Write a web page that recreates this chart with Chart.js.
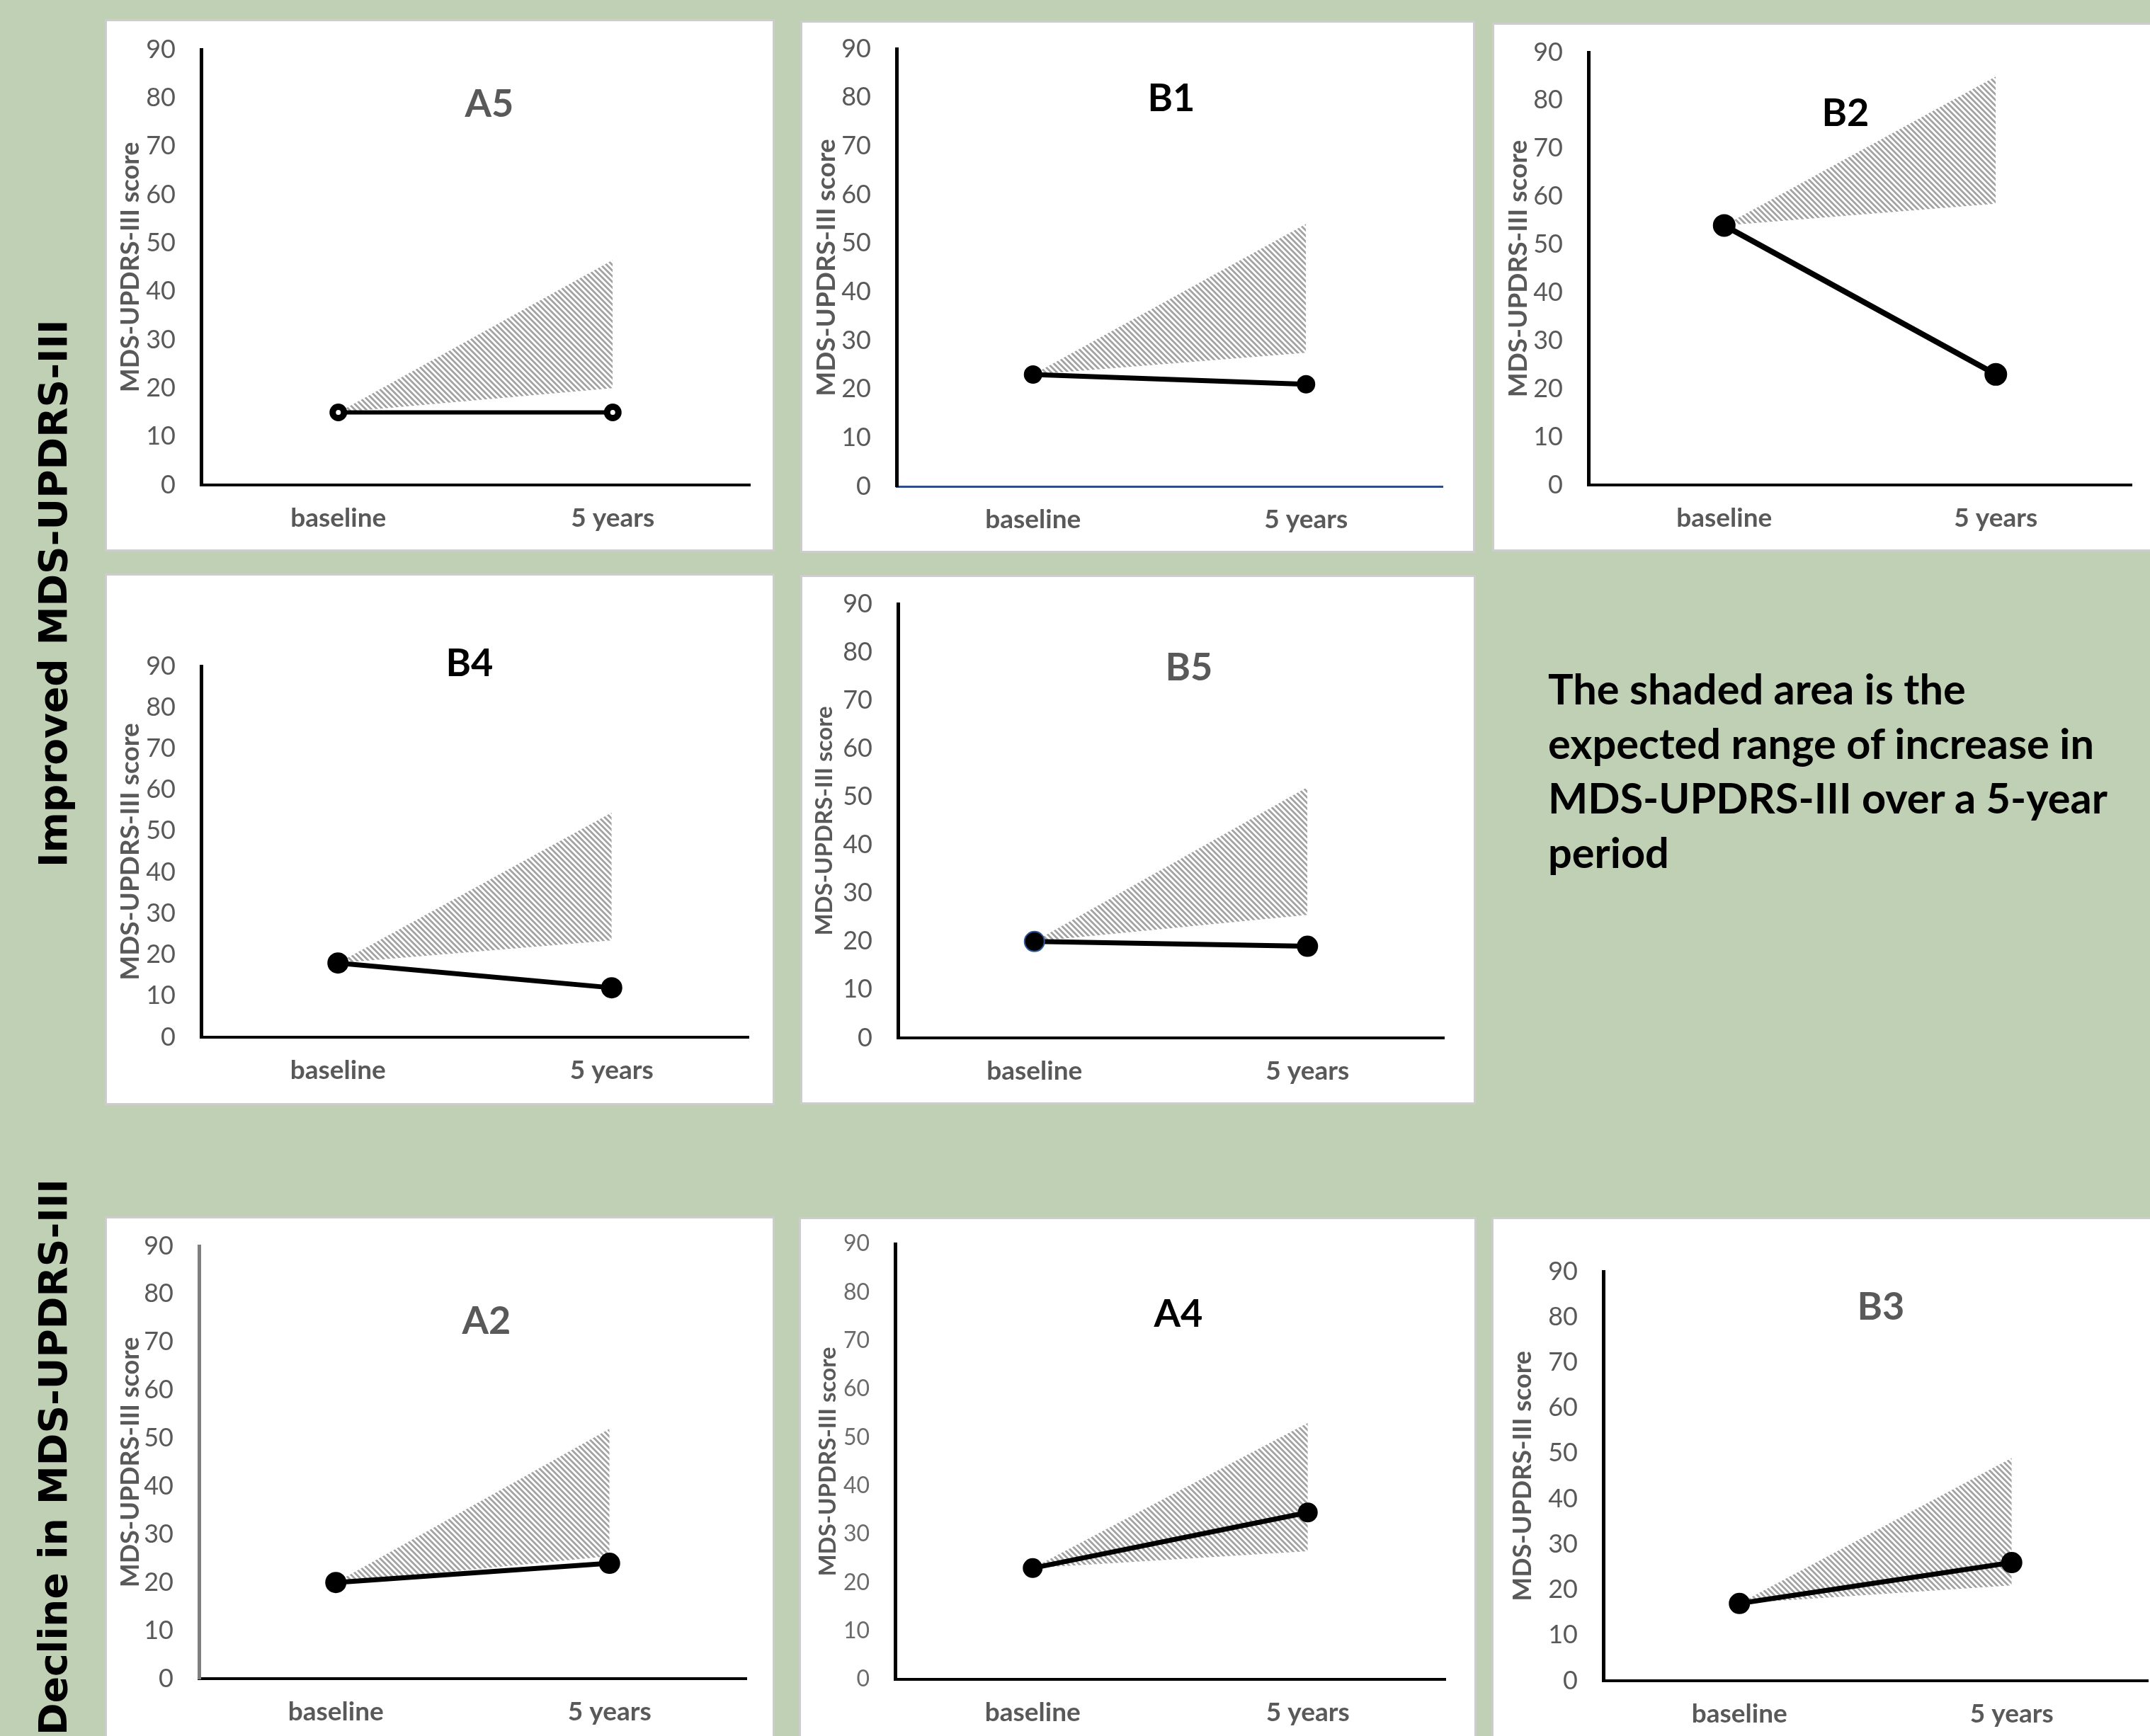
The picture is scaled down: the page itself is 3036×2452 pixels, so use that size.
<!DOCTYPE html>
<html lang="en">
<head>
<meta charset="UTF-8" />
<title>MDS-UPDRS-III change over 5 years</title>
<script src="https://cdn.jsdelivr.net/npm/chart.js"></script>
<style>
  html, body { margin: 0; padding: 0; }
  body { width: 3036px; height: 2452px; overflow: hidden; background: #bfd0b4; position: relative; font-family: Lato, sans-serif; }
  .panel { position: absolute; background: #fff; box-shadow: 0 0 0 3px #cdcdcd; }
  .panel canvas { position: absolute; left: 0; top: 0; }
  .group { position: absolute; font-family: 'DejaVu Sans', sans-serif; font-weight: bold; font-size: 55px; line-height: 59px; color: #000;
           writing-mode: vertical-rl; transform: rotate(180deg); white-space: nowrap; }
  .note { position: absolute; left: 2186px; top: 934px; font-family: Lato, sans-serif; font-weight: bold; font-size: 59.5px; line-height: 77px; color: #000; white-space: nowrap; }
</style>
</head>
<body>

<div class="group" id="grpImproved" style="left:46px; top:298px; height:1080px; text-align:center;"></div>
<div class="group" id="grpDecline" style="left:46px; top:1665px; height:900px; text-align:end;"></div>
<div class="note" id="note"></div>

<script>
  // ---- data ----
  const panelNames = ['A5', 'B1', 'B2', 'B4', 'B5', 'A2', 'A4', 'B3'];
  const timepoints = ['baseline', '5 years'];
  const baselineScores = [15, 23, 54, 18, 20, 20, 23, 17];
  const fiveYearScores = [15, 21, 23, 12, 19, 24, 34.5, 26];
  // expected range at 5 years (shaded wedge starts from the baseline score)
  const expectedLow = [20, 27.5, 58.5, 23.5, 25.5, 25.5, 26.5, 21];
  const expectedHigh = [46.5, 54, 85, 54.5, 52, 52, 53, 49];
  const yMin = 0, yMax = 90, yStep = 10;
  const yTitle = 'MDS-UPDRS-III score';
  const groupLabels = ['Improved MDS-UPDRS-III', 'Decline in MDS-UPDRS-III'];
  const noteLines = ['The shaded area is the', 'expected range of increase in', 'MDS-UPDRS-III over a 5-year', 'period'];

  // ---- page layout (px): panel box [l, t, w, h], plot area [l, t, r, b], title centre [x, y] ----
  const layout = [
    { box: [151, 30, 940, 746],   plot: [284, 70, 1059, 685],     title: [691, 148] },
    { box: [1133, 32, 947, 746],  plot: [1266, 69, 2037, 687],    title: [1654, 140] },
    { box: [2110, 35, 940, 741],  plot: [2243, 74, 3010, 685],    title: [2606, 161] },
    { box: [151, 813, 940, 745],  plot: [284, 941, 1057, 1465],   title: [663, 938] },
    { box: [1133, 815, 948, 742], plot: [1268, 853, 2039, 1466],  title: [1679, 944] },
    { box: [151, 1721, 940, 760], plot: [281, 1760, 1054, 2371],  title: [687, 1867] },
    { box: [1131, 1722, 951, 760],plot: [1264, 1757, 2041, 2372], title: [1664, 1857] },
    { box: [2109, 1722, 940, 760],plot: [2264, 1796, 3040, 2374], title: [2656, 1847] }
  ];

  const GRAY = '#595959';
  const FONT = 'Lato, sans-serif';
  const styles = [
    { titleColor: GRAY,   tick: 36, ytitle: 36, yTitleX: 33, r: 8, pbw: 9, pfill: '#fff', line: 6, xAxis: '#000', yAxis: '#000' },
    { titleColor: '#000', tick: 36, ytitle: 37, yTitleX: 34, r: 12, pbw: 2, pfill: '#000', line: 7, xAxis: '#2f4d8a', xw: 3, yAxis: '#000' },
    { titleColor: '#000', tick: 36, ytitle: 37, yTitleX: 34, r: 15, pbw: 2, pfill: '#000', line: 8, xAxis: '#000', yAxis: '#000' },
    { titleColor: '#000', tick: 36, ytitle: 37, yTitleX: 33, r: 14, pbw: 2, pfill: '#000', line: 7, xAxis: '#000', yAxis: '#000' },
    { titleColor: GRAY,   tick: 36, ytitle: 33, yTitleX: 31, r: 14, pbw: 2, pfill: '#000', line: 7, xAxis: '#000', yAxis: '#000', firstBorder: '#2f5597' },
    { titleColor: GRAY,   tick: 36, ytitle: 36, yTitleX: 33, r: 14, pbw: 2, pfill: '#000', line: 7, xAxis: '#000', yAxis: '#7f7f7f' },
    { titleColor: '#000', tick: 32, ytitle: 33, yTitleX: 38, r: 13, pbw: 2, pfill: '#000', line: 7, xAxis: '#000', yAxis: '#000', tickColor: '#6b6b6b' },
    { titleColor: GRAY,   tick: 36, ytitle: 36, yTitleX: 41, r: 14, pbw: 2, pfill: '#000', line: 7, xAxis: '#000', yAxis: '#000' }
  ];

  document.getElementById('grpImproved').textContent = groupLabels[0];
  document.getElementById('grpDecline').textContent = groupLabels[1];
  document.getElementById('note').innerHTML = noteLines.join('<br>');

  // Excel-like "wide downward diagonal" hatch
  function stripePattern() {
    const c = document.createElement('canvas');
    c.width = 8; c.height = 8;
    const g = c.getContext('2d');
    g.fillStyle = '#a6a6a6';
    for (let y = 0; y < 8; y++) {
      for (let x = 0; x < 8; x++) {
        if ((((x - y) % 8) + 8) % 8 < 4) g.fillRect(x, y, 1, 1);
      }
    }
    return g.createPattern(c, 'repeat');
  }
  const hatch = stripePattern();

  const panelTitle = {
    id: 'panelTitle',
    afterDatasetsDraw(chart, args, opts) {
      const ctx = chart.ctx;
      ctx.save();
      ctx.font = `bold ${opts.size}px ${FONT}`;
      ctx.fillStyle = opts.color;
      ctx.textAlign = 'center';
      ctx.textBaseline = 'middle';
      ctx.fillText(opts.text, opts.x, opts.y);
      ctx.restore();
    }
  };

  panelNames.forEach((name, i) => {
    const L = layout[i];
    const S = styles[i];
    const div = document.createElement('div');
    div.className = 'panel';
    div.style.left = L.box[0] + 'px';
    div.style.top = L.box[1] + 'px';
    div.style.width = L.box[2] + 'px';
    div.style.height = L.box[3] + 'px';
    const canvas = document.createElement('canvas');
    canvas.width = L.box[2];
    canvas.height = L.box[3];
    canvas.style.width = L.box[2] + 'px';
    canvas.style.height = L.box[3] + 'px';
    div.appendChild(canvas);
    document.body.appendChild(div);

    const plotL = L.plot[0] - L.box[0];
    const plotT = L.plot[1] - L.box[1];
    const plotR = L.plot[2] - L.box[0];
    const plotB = L.plot[3] - L.box[1];
    const ytLine = S.ytitle * 1.2;

    new Chart(canvas, {
      type: 'line',
      data: {
        labels: timepoints,
        datasets: [
          {
            label: name,
            data: [baselineScores[i], fiveYearScores[i]],
            borderColor: '#000',
            borderWidth: S.line,
            pointRadius: S.r,
            pointBorderWidth: S.pbw,
            pointBackgroundColor: S.pfill,
            pointBorderColor: S.firstBorder ? [S.firstBorder, '#000'] : '#000',
            tension: 0,
            fill: false
          },
          {
            label: 'expected high',
            data: [baselineScores[i], expectedHigh[i]],
            showLine: false,
            borderColor: 'rgba(0,0,0,0)',
            pointRadius: 0,
            backgroundColor: hatch,
            fill: '+1'
          },
          {
            label: 'expected low',
            data: [baselineScores[i], expectedLow[i]],
            showLine: false,
            borderColor: 'rgba(0,0,0,0)',
            pointRadius: 0,
            fill: false
          }
        ]
      },
      options: {
        responsive: false,
        animation: false,
        layout: { padding: { left: 0, top: plotT, right: canvas.width - plotR, bottom: 0 } },
        plugins: {
          legend: { display: false },
          tooltip: { enabled: false },
          panelTitle: { text: name, x: L.title[0] - L.box[0], y: L.title[1] - L.box[1], size: 54, color: S.titleColor }
        },
        scales: {
          x: {
            offset: true,
            grid: { display: false, drawTicks: false },
            border: { display: true, color: S.xAxis, width: S.xw || 4 },
            ticks: { color: GRAY, padding: 25, font: { family: FONT, size: 37, weight: 'bold' } },
            afterFit(scale) {
              scale.height = canvas.height - plotB;
              scale.paddingLeft = 0;
              scale.paddingRight = 0;
            }
          },
          y: {
            min: yMin,
            max: yMax,
            grid: { display: false, drawTicks: false },
            border: { display: true, color: S.yAxis, width: 5 },
            ticks: { stepSize: yStep, color: S.tickColor || GRAY, padding: 36, font: { family: FONT, size: S.tick } },
            title: {
              display: true,
              text: yTitle,
              color: GRAY,
              font: { family: FONT, size: S.ytitle, weight: 'bold', lineHeight: 1.2 },
              padding: { top: S.yTitleX - ytLine / 2, bottom: 0 }
            },
            afterFit(scale) {
              scale.width = plotL;
              scale.paddingTop = 0;
              scale.paddingBottom = 0;
            }
          }
        }
      },
      plugins: [panelTitle]
    });
  });
</script>
</body>
</html>
